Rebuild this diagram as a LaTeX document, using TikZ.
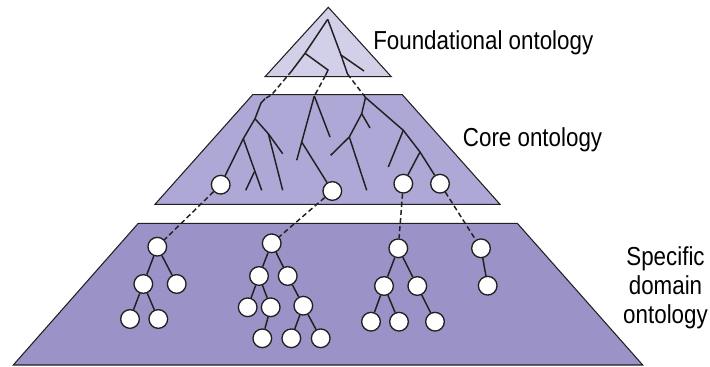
\documentclass[tikz,border=0pt]{standalone}
\usepackage{fontspec}
\setmainfont{Liberation Sans}[FakeStretch=0.86]
\usepackage{xcolor}
\definecolor{topfill}{RGB}{210,208,232}
\definecolor{corefill}{RGB}{173,168,214}
\definecolor{domfill}{RGB}{155,147,200}
\definecolor{treeline}{RGB}{35,31,32}
\tikzset{
  layer/.style={draw=treeline, line width=0.8pt},
  branch/.style={draw=treeline, line width=1.1pt},
  link/.style={draw=treeline, line width=1.1pt, dash pattern={on 3.8pt off 2.3pt}},
  leaf/.style={circle, draw=treeline, fill=white, line width=1pt, minimum size=14pt, inner sep=0pt},
  label/.style={inner sep=0pt, font=\fontsize{19.5}{21.75}\selectfont}
}
\begin{document}
\begin{tikzpicture}[x=0.75pt,y=0.75pt,yscale=-1,xscale=1]
\useasboundingbox (0,0) rectangle (710,367);
%Layers
\draw [layer, fill=domfill] (138.3,223.3) -- (517.3,223.3) -- (642.7,365) -- (13.3,365) -- cycle ;
\draw [layer, fill=corefill] (252.7,94.7) -- (402.3,94.7) -- (500,204.3) -- (155,204.3) -- cycle ;
\draw [layer, fill=topfill] (328.3,7.3) -- (391.3,76.7) -- (265,76.7) -- cycle ;
%Foundational tree
\coordinate (ft) at (327.7,19.3);
\coordinate (fa) at (305,53.3);
\coordinate (fb) at (291.7,71);
\coordinate (fc) at (328,70);
\coordinate (fd) at (325.5,75.5);
\coordinate (fe) at (341,55);
\coordinate (ff) at (364,71);
\coordinate (fg) at (347.5,74);
\draw [branch] (ft) -- (fa) -- (fb) ;
\draw [branch] (fa) -- (fc) -- (fd) ;
\draw [branch] (ft) -- (fe) -- (ff) ;
\draw [branch] (fe) -- (fg) ;
%Core tree, left
\coordinate (ca) at (271.7,94.7);
\coordinate (c0) at (265,98.7);
\coordinate (c3) at (255,118.7);
\coordinate (c4) at (243.3,138.7);
\coordinate (c5) at (268.3,133.7);
\coordinate (c6) at (282.7,153.7);
\coordinate (c7) at (282.7,190.3);
\coordinate (c8) at (261.7,190.3);
\coordinate (c9) at (254.3,172);
\coordinate (c10) at (245.7,190.3);
%Core tree, middle
\coordinate (cb) at (314.3,96);
\coordinate (m1) at (301.7,142);
\coordinate (m2) at (296.7,160.3);
\coordinate (m3) at (330,137);
%Core tree, right
\coordinate (cc) at (365.5,97.5);
\coordinate (r1) at (361.7,113.7);
\coordinate (r2) at (349.3,137);
\coordinate (r3) at (330.7,155.3);
\coordinate (r4) at (370,128);
\coordinate (r5) at (366.7,190.3);
\coordinate (r6) at (403.3,130.3);
\coordinate (r7) at (388.3,167);
\coordinate (r8) at (420,152);
%Core leaves
\node [leaf] (k1) at (220.7,184.7) {};
\node [leaf] (k2) at (332.3,191) {};
\node [leaf] (k3) at (403.3,183.7) {};
\node [leaf] (k4) at (440,183.7) {};
\draw [branch] (c0) -- (261,103) -- (c3) -- (c4) -- (k1) ;
\draw [branch] (c3) -- (c5) -- (c6) ;
\draw [branch] (c5) -- (c7) ;
\draw [branch] (c4) -- (c8) ;
\draw [branch] (c9) -- (c10) ;
\draw [branch] (cb) -- (m1) -- (m2) ;
\draw [branch] (cb) -- (m3) ;
\draw [branch] (m1) -- (k2) ;
\draw [branch] (cc) -- (r1) -- (r2) -- (r3) ;
\draw [branch] (r1) -- (r4) ;
\draw [branch] (r2) -- (r5) ;
\draw [branch] (cc) -- (r6) -- (r7) ;
\draw [branch] (r6) -- (r8) -- (k4) ;
\draw [branch] (r8) -- (k3) ;
%Links foundational -> core
\draw [link] (fb) -- (ca) -- (c0) ;
\draw [link] (fd) -- (cb) ;
\draw [link] (fg) -- (cc) ;
%Domain trees
\node [leaf] (a0) at (157.3,246.7) {};
\node [leaf] (a1) at (143.3,284) {};
\node [leaf] (a2) at (176.7,284) {};
\node [leaf] (a3) at (130,319) {};
\node [leaf] (a4) at (158.3,319) {};
\node [leaf] (b0) at (271.7,243.3) {};
\node [leaf] (b1) at (259,276) {};
\node [leaf] (b2) at (287.7,276) {};
\node [leaf] (b3) at (247.7,307.3) {};
\node [leaf] (b4) at (270.7,307.3) {};
\node [leaf] (b5) at (262.3,338.3) {};
\node [leaf] (b6) at (303.3,305.7) {};
\node [leaf] (b7) at (291.3,338.3) {};
\node [leaf] (b8) at (320.7,338.3) {};
\node [leaf] (d0) at (398.3,248.3) {};
\node [leaf] (d1) at (384,286) {};
\node [leaf] (d2) at (417.3,286) {};
\node [leaf] (d3) at (371,321.7) {};
\node [leaf] (d4) at (399,321.7) {};
\node [leaf] (d5) at (435,321.7) {};
\node [leaf] (e0) at (481,248.3) {};
\node [leaf] (e1) at (487.7,285.7) {};
\draw [branch] (a0) -- (a1) (a0) -- (a2) (a1) -- (a3) (a1) -- (a4) ;
\draw [branch] (b0) -- (b1) (b0) -- (b2) (b1) -- (b3) (b1) -- (b4) (b4) -- (b5) (b2) -- (b6) (b6) -- (b7) (b6) -- (b8) ;
\draw [branch] (d0) -- (d1) (d0) -- (d2) (d1) -- (d3) (d1) -- (d4) (d2) -- (d5) ;
\draw [branch] (e0) -- (e1) ;
%Links core -> domain
\draw [link] (k1) -- (a0) ;
\draw [link] (k2) -- (b0) ;
\draw [link] (k3) -- (d0) ;
\draw [link] (k4) -- (e0) ;
% Text Node
\node [label, anchor=base west] (fnd) at (373,50) {Foundational ontology};
% Text Node
\node [label, anchor=base west] (core) at (462.7,146.7) {Core ontology};
% Text Node
\node [label, anchor=north, align=center] (dom) at (665.5,246.5) {Specific\\domain\\ontology};
\end{tikzpicture}
\end{document}
